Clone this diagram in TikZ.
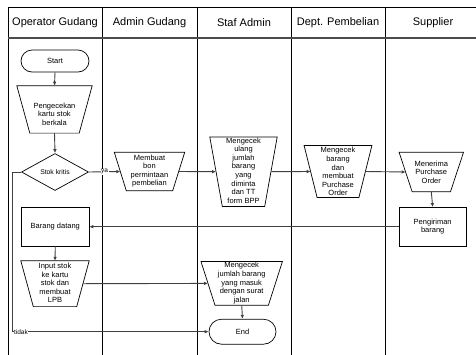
\documentclass[tikz,border=0pt]{standalone}
\usepackage{fontspec}
\setmainfont{Liberation Sans}
\usetikzlibrary{shapes.geometric,shapes.misc,arrows.meta}

\begin{document}
\begin{tikzpicture}[x=1pt,y=-1pt,
  lane/.style={draw=black, line width=0.9pt},
  hline/.style={draw=black!70, line width=1.2pt},
  hdr/.style={font=\fontsize{11}{13}\selectfont, inner sep=0pt},
  area/.style={rectangle, draw=none, inner sep=0pt},
  box/.style={draw=black, line width=0.7pt},
  procbox/.style={rectangle, draw=black, line width=0.7pt, inner sep=0pt},
  term/.style={rounded rectangle, draw=black, line width=0.7pt, inner sep=0pt},
  decision/.style={diamond, draw=black, line width=0.7pt, inner sep=0pt},
  txt/.style={align=center, inner sep=0pt, font=\fontsize{7.5}{8.6}\selectfont},
  lbl/.style={fill=white, inner sep=0.6pt, font=\fontsize{6.5}{7}\selectfont},
  conn/.style={draw=black!75, line width=0.9pt, -{Latex[length=4pt,width=3.6pt]}}
]
\clip (0,0) rectangle (476,354);

% swimlane frame
\draw[lane] (8,360) -- (8,7) -- (490,7);
\foreach \x in {102,197,291,385,481} \draw[lane] (\x,7) -- (\x,360);
\draw[hline] (8,38) -- (490,38);

% lane headers
\node[hdr] (h1) at (55,22.5) {Operator Gudang};
\node[hdr] (h2) at (149.5,22.5) {Admin Gudang};
\node[hdr] (h3) at (244,22.5) {Staf Admin};
\node[hdr] (h4) at (338,22.5) {Dept. Pembelian};
\node[hdr] (h5) at (433,22.5) {Supplier};

% terminals, decision and plain process boxes
\node[term, minimum width=68pt, minimum height=22pt, txt] (start) at (55,61) {Start};
\node[decision, minimum width=67pt, minimum height=37pt, font=\fontsize{6.8}{8}\selectfont] (kritis) at (55,172) {Stok kritis};
\node[procbox, minimum width=67.3pt, minimum height=38.5pt, txt] (datang) at (55.3,226.7) {Barang datang};
\node[procbox, minimum width=67pt, minimum height=38.5pt, txt] (kirim) at (432.7,226.7) {Pengiriman\\barang};
\node[term, minimum width=67pt, minimum height=25pt, txt] (end) at (242.5,331.7) {End};

% manual operation areas (outline drawn below)
\node[area, minimum width=75pt, minimum height=47pt] (cek) at (54.5,109.4) {};
\node[area, minimum width=70pt, minimum height=38pt] (bon) at (149.5,171.5) {};
\node[area, minimum width=67pt, minimum height=69pt] (ulang) at (243.5,171.7) {};
\node[area, minimum width=67.4pt, minimum height=51.6pt] (po) at (338,171.5) {};
\node[area, minimum width=64pt, minimum height=39pt] (terima) at (431.3,172) {};
\node[area, minimum width=68pt, minimum height=45.4pt] (input) at (55,283.7) {};
\node[area, minimum width=81pt, minimum height=43.3pt] (jumlah) at (241.7,283.4) {};

\foreach \n/\i in {cek/13,bon/12,ulang/12.5,po/13,terima/13,input/12.5,jumlah/14}
  \draw[box] (\n.north west) -- (\n.north east) -- ([xshift=-\i]\n.south east)
    -- ([xshift=\i]\n.south west) -- cycle;

% texts of the manual operations
\node[txt] (cekT) at (54.5,114) {Pengecekan\\kartu stok\\berkala};
\node[txt] (bonT) at (149.5,171) {Membuat\\bon\\permintaan\\pembelian};
\node[txt] (ulangT) at (243.5,170.5) {Mengecek\\ulang\\jumlah\\barang\\yang\\diminta\\dan TT\\form BPP};
\node[txt] (poT) at (338,171.7) {Mengecek\\barang\\dan\\membuat\\Purchase\\Order};
\node[txt] (terimaT) at (431.3,172) {Menerima\\Purchase\\Order};
\node[txt] (inputT) at (55,283) {Input stok\\ke kartu\\stok dan\\membuat\\LPB};
\node[txt] (jumlahT) at (241.7,283.2) {Mengecek\\jumlah barang\\yang masuk\\dengan surat\\jalan};

% flow
\draw[conn] (start.south) -- (cek.north);
\draw[conn] (cek.south) -- (kritis.north);
\draw[conn] (kritis.east) -- node[lbl] {ya} ([xshift=6]bon.west);
\draw[conn] ([xshift=-6]bon.east) -- ([xshift=6.25]ulang.west);
\draw[conn] ([xshift=-6.25]ulang.east) -- ([xshift=6.5]po.west);
\draw[conn] ([xshift=-6.5]po.east) -- ([xshift=6.5]terima.west);
\draw[conn] (terima.south) -- (kirim.north);
\draw[conn] (kirim.west) -- (datang.east);
\draw[conn] (datang.south) -- (input.north);
\draw[conn] ([xshift=-6.25]input.east) -- ([xshift=7]jumlah.west);
\draw[conn] (jumlah.south) -- (end.north);

\coordinate (bend) at (12.5,331.7);
\draw[conn] (kritis.west) -- (kritis.west -| bend) -- (bend) -- (end.west);
\node[lbl, anchor=west] (tidak) at ([xshift=0.8]bend) {tidak};
\end{tikzpicture}
\end{document}
